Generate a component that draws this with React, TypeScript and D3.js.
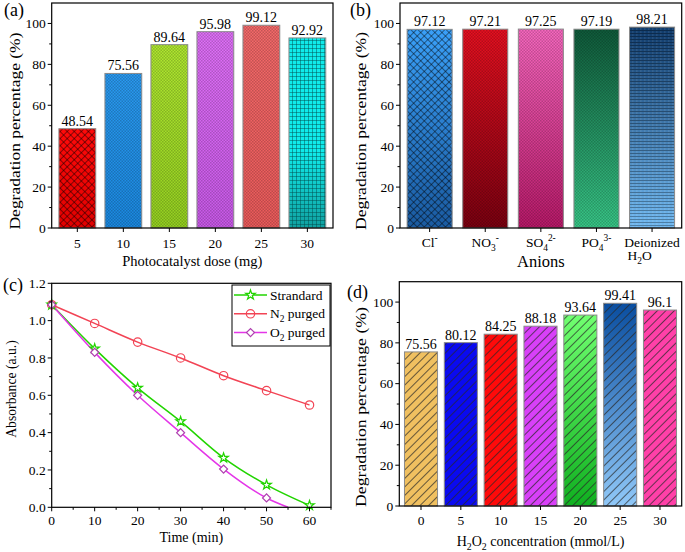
import React from 'react';
import * as d3 from 'd3';

// ---------- data ----------
const aDose = ['5', '10', '15', '20', '25', '30'];
const aValues = [48.54, 75.56, 89.64, 95.98, 99.12, 92.92];

const bAnions = ['Cl', 'NO3', 'SO4', 'PO4', 'Deionized'];
const bValues = [97.12, 97.21, 97.25, 97.19, 98.21];

const cTime = [0, 10, 20, 30, 40, 50, 60];
const cStandard = [1.085, 0.85, 0.64, 0.46, 0.265, 0.12, 0.01];
const cN2 = [1.085, 0.985, 0.885, 0.8, 0.705, 0.625, 0.548];
const cO2Time = [0, 10, 20, 30, 40, 50, 55];
const cO2 = [1.085, 0.83, 0.6, 0.4, 0.205, 0.05, 0];
const cO2Markers = 6;

const dConc = ['0', '5', '10', '15', '20', '25', '30'];
const dValues = [75.56, 80.12, 84.25, 88.18, 93.64, 99.41, 96.1];

const barYTicks = [0, 20, 40, 60, 80, 100];
const barYMinor = [10, 30, 50, 70, 90];
const cYTicks = [0, 0.2, 0.4, 0.6, 0.8, 1.0, 1.2];
const cYMinor = [0.1, 0.3, 0.5, 0.7, 0.9, 1.1];
const cXTicks = [0, 10, 20, 30, 40, 50, 60];
const cXMinor = [5, 15, 25, 35, 45, 55, 65];

// ---------- styles ----------
const FONT = '"Liberation Serif", "Times New Roman", serif';
const aTop = ['#ff0a0a', '#2a9af0', '#b0e830', '#e070f8', '#f46a6a', '#10eaea'];
const aBot = ['#e00000', '#1a88e0', '#94d020', '#c858e8', '#ea5a5a', '#10a0a0'];
const aPat = ['xhatch', 'dots', 'dots', 'dots', 'dots', 'grid'];
const bTop = ['#3aa0f8', '#e81020', '#f868c0', '#0f5a3a', '#0f3a6a'];
const bBot = ['#1a5aa0', '#7a0010', '#b81868', '#38c888', '#70b8f0'];
const bPat = ['xhatch', 'dots', 'dots', 'dots', 'hlines'];
const dTop = ['#f0c060', '#0a0af0', '#ff0a0a', '#d840f8', '#70ff70', '#0a4ea0', '#ff40a8'];
const dBot = ['#f0c060', '#0a0af0', '#ff0a0a', '#d840f8', '#10b020', '#90c8f8', '#ff40a8'];

const txt = { fontFamily: FONT, fill: '#000' } as React.CSSProperties;

type Part = { t: string; s?: 'sub' | 'sup' };
function Rich({ parts, x, y, size, anchor = 'middle' }: { parts: Part[]; x: number; y: number; size: number; anchor?: string }) {
  let cur = 0;
  return (
    <text x={x} y={y} fontSize={size} textAnchor={anchor} style={txt}>
      {parts.map((p, i) => {
        const target = p.s === 'sub' ? size * 0.3 : p.s === 'sup' ? -size * 0.4 : 0;
        const dy = target - cur;
        cur = target;
        return (
          <tspan key={i} dy={dy} fontSize={p.s ? size * 0.7 : size}>
            {p.t}
          </tspan>
        );
      })}
    </text>
  );
}

const bLabelParts: Part[][] = [
  [{ t: 'Cl' }, { t: '-', s: 'sup' }],
  [{ t: 'NO' }, { t: '3', s: 'sub' }, { t: '-', s: 'sup' }],
  [{ t: 'SO' }, { t: '4', s: 'sub' }, { t: '2-', s: 'sup' }],
  [{ t: 'PO' }, { t: '4', s: 'sub' }, { t: '3-', s: 'sup' }],
  [{ t: 'Deionized' }],
];

function YAxis({ x, y, ticks, minor, fmt }: { x: number; y: d3.ScaleLinear<number, number>; ticks: number[]; minor: number[]; fmt: (v: number) => string }) {
  return (
    <g>
      {ticks.map((t) => (
        <g key={'t' + t}>
          <line x1={x - 4} x2={x} y1={y(t)} y2={y(t)} stroke="#000" />
          <text x={x - 6} y={y(t)} dy="0.35em" textAnchor="end" fontSize={13.5} style={txt}>
            {fmt(t)}
          </text>
        </g>
      ))}
      {minor.map((t) => (
        <line key={'m' + t} x1={x - 2.5} x2={x} y1={y(t)} y2={y(t)} stroke="#000" />
      ))}
    </g>
  );
}

function Patterns() {
  return (
    <defs>
      <pattern id="xhatch" width={5} height={5} patternUnits="userSpaceOnUse" patternTransform="rotate(45)">
        <path d="M0.5 0V5M0 0.5H5" stroke="rgba(0,0,0,0.45)" strokeWidth={1} />
      </pattern>
      <pattern id="dots" width={3} height={3} patternUnits="userSpaceOnUse">
        <rect width={1.5} height={1.5} fill="rgba(0,0,0,0.2)" />
        <rect x={1.5} y={1.5} width={1.5} height={1.5} fill="rgba(0,0,0,0.2)" />
      </pattern>
      <pattern id="grid" width={4} height={4} patternUnits="userSpaceOnUse">
        <path d="M0 0.5H4M0.5 0V4" stroke="rgba(0,70,70,0.45)" strokeWidth={1} />
      </pattern>
      <pattern id="hlines" width={4} height={3} patternUnits="userSpaceOnUse">
        <rect width={4} height={1} fill="rgba(0,0,0,0.3)" />
        <rect x={0} y={1.5} width={1.5} height={1} fill="rgba(255,255,255,0.15)" />
      </pattern>
      <pattern id="diag" width={6} height={6} patternUnits="userSpaceOnUse" patternTransform="rotate(45)">
        <line x1={0.5} y1={0} x2={0.5} y2={6} stroke="rgba(40,40,40,0.7)" strokeWidth={1} />
      </pattern>
      {aTop.map((c, i) => (
        <linearGradient key={'ga' + i} id={'ga' + i} x1="0" y1="0" x2="0" y2="1">
          <stop offset="0" stopColor={c} />
          <stop offset={i === 5 ? '0.6' : '0'} stopColor={c} />
          <stop offset="1" stopColor={aBot[i]} />
        </linearGradient>
      ))}
      {bTop.map((c, i) => (
        <linearGradient key={'gb' + i} id={'gb' + i} x1="0" y1="0" x2="0" y2="1">
          <stop offset="0" stopColor={c} />
          <stop offset="1" stopColor={bBot[i]} />
        </linearGradient>
      ))}
      {dTop.map((c, i) => (
        <linearGradient key={'gd' + i} id={'gd' + i} x1="0" y1="0" x2="0" y2="1">
          <stop offset="0" stopColor={c} />
          <stop offset="1" stopColor={dBot[i]} />
        </linearGradient>
      ))}
    </defs>
  );
}

function Bars({ cats, values, x, y, grad, pats }: { cats: string[]; values: number[]; x: d3.ScaleBand<string>; y: d3.ScaleLinear<number, number>; grad: string; pats: string[] }) {
  return (
    <g>
      {cats.map((c, i) => {
        const bx = x(c)!;
        const bw = x.bandwidth();
        const by = y(values[i]);
        const bh = y(0) - by;
        return (
          <g key={c}>
            <rect x={bx} y={by} width={bw} height={bh} fill={`url(#${grad}${i})`} />
            <rect x={bx} y={by} width={bw} height={bh} fill={`url(#${pats[i]})`} stroke="#8a8a8a" strokeWidth={1} />
            <text x={bx + bw / 2} y={by - 3} textAnchor="middle" fontSize={14} style={txt}>
              {values[i]}
            </text>
          </g>
        );
      })}
    </g>
  );
}

export default function App() {
  // Panel a
  const A = { l: 51.7, r: 333, t: 3, b: 228 };
  const ax = d3.scaleBand<string>().domain(aDose).range([A.l, A.r]).paddingInner(0.2).paddingOuter(0.157);
  const ay = d3.scaleLinear().domain([0, 110]).range([A.b, A.t]);
  // Panel b
  const B = { l: 400, r: 681.7, t: 3, b: 228 };
  const bx = d3.scaleBand<string>().domain(bAnions).range([B.l, B.r]).paddingInner(0.19).paddingOuter(0.128);
  const by = d3.scaleLinear().domain([0, 110]).range([B.b, B.t]);
  // Panel c
  const C = { l: 51.7, r: 331, t: 283.3, b: 507.3 };
  const cx = d3.scaleLinear().domain([0, 65]).range([C.l, C.r]);
  const cy = d3.scaleLinear().domain([0, 1.2]).range([C.b, C.t]);
  // Panel d
  const D = { l: 399.3, r: 681.7, t: 281.7, b: 506 };
  const dx = d3.scaleBand<string>().domain(dConc).range([D.l, D.r]).paddingInner(0.17).paddingOuter(0.13);
  const dy = d3.scaleLinear().domain([0, 110]).range([D.b, D.t]);

  const line = d3
    .line<[number, number]>()
    .x((p) => cx(p[0]))
    .y((p) => cy(p[1]))
    .curve(d3.curveMonotoneX);

  const stdPts = cTime.map((t, i) => [t, cStandard[i]] as [number, number]);
  const n2Pts = cTime.map((t, i) => [t, cN2[i]] as [number, number]);
  const o2Pts = cO2Time.map((t, i) => [t, cO2[i]] as [number, number]);

  const green = '#22d400';
  const red = '#f24455';
  const magenta = '#e436e8';
  const star = d3.symbol().type(d3.symbolStar).size(28)()!;
  const diamond = d3.symbol().type(d3.symbolSquare).size(32)()!;

  const fmtInt = (v: number) => String(v);
  const fmt1 = (v: number) => v.toFixed(1);

  return (
    <svg width={685} height={552} style={{ position: 'absolute', left: 0, top: 0, background: '#fff', fontFamily: FONT }}>
      <Patterns />
      <rect width={685} height={552} fill="#fff" />

      {/* ---------- Panel a ---------- */}
      <Bars cats={aDose} values={aValues} x={ax} y={ay} grad="ga" pats={aPat} />
      <rect x={A.l} y={A.t} width={A.r - A.l} height={A.b - A.t} fill="none" stroke="#000" strokeWidth={1.2} />
      <YAxis x={A.l} y={ay} ticks={barYTicks} minor={barYMinor} fmt={fmtInt} />
      {aDose.map((c) => (
        <g key={c}>
          <line x1={ax(c)! + ax.bandwidth() / 2} x2={ax(c)! + ax.bandwidth() / 2} y1={A.b} y2={A.b + 4} stroke="#000" />
          <text x={ax(c)! + ax.bandwidth() / 2} y={248} textAnchor="middle" fontSize={13.5} style={txt}>
            {c}
          </text>
        </g>
      ))}
      <text x={(A.l + A.r) / 2} y={266} textAnchor="middle" fontSize={14.5} style={txt}>
        Photocatalyst dose (mg)
      </text>
      <text transform="translate(20,131) rotate(-90)" textAnchor="middle" fontSize={15.5} textLength={197} lengthAdjust="spacingAndGlyphs" style={txt}>
        Degradation percentage (%)
      </text>
      <text x={4} y={16} fontSize={18} style={txt}>
        (a)
      </text>

      {/* ---------- Panel b ---------- */}
      <Bars cats={bAnions} values={bValues} x={bx} y={by} grad="gb" pats={bPat} />
      <rect x={B.l} y={B.t} width={B.r - B.l} height={B.b - B.t} fill="none" stroke="#000" strokeWidth={1.2} />
      <YAxis x={B.l} y={by} ticks={barYTicks} minor={barYMinor} fmt={fmtInt} />
      {bAnions.map((c, i) => (
        <g key={c}>
          <line x1={bx(c)! + bx.bandwidth() / 2} x2={bx(c)! + bx.bandwidth() / 2} y1={B.b} y2={B.b + 4} stroke="#000" />
          <Rich parts={bLabelParts[i]} x={bx(c)! + bx.bandwidth() / 2} y={246.5} size={13.5} />
        </g>
      ))}
      <Rich parts={[{ t: 'H' }, { t: '2', s: 'sub' }, { t: 'O' }]} x={bx(bAnions[4])! - 2} y={260} size={13.5} anchor="start" />
      <text x={(B.l + B.r) / 2} y={266.5} textAnchor="middle" fontSize={16.5} style={txt}>
        Anions
      </text>
      <text transform="translate(366,131) rotate(-90)" textAnchor="middle" fontSize={15.5} textLength={198} lengthAdjust="spacingAndGlyphs" style={txt}>
        Degradation percentage (%)
      </text>
      <text x={350} y={16} fontSize={18} style={txt}>
        (b)
      </text>

      {/* ---------- Panel c ---------- */}
      <defs>
        <clipPath id="clipC">
          <rect x={C.l} y={C.t} width={C.r - C.l} height={C.b - C.t} />
        </clipPath>
      </defs>
      <g clipPath="url(#clipC)">
        <path d={line(n2Pts)!} fill="none" stroke={red} strokeWidth={1.5} />
        <path d={line(stdPts)!} fill="none" stroke={green} strokeWidth={1.5} />
        <path d={line(o2Pts)!} fill="none" stroke={magenta} strokeWidth={1.5} />
      </g>
      {n2Pts.map((p, i) => (
        <circle key={'n' + i} cx={cx(p[0])} cy={cy(p[1])} r={4.2} fill="none" stroke={red} strokeWidth={1.2} />
      ))}
      {stdPts.map((p, i) => (
        <path key={'s' + i} d={star} transform={`translate(${cx(p[0])},${cy(p[1])})`} fill="#fff" stroke={green} strokeWidth={1.2} />
      ))}
      {o2Pts.slice(0, cO2Markers).map((p, i) => (
        <path key={'o' + i} d={diamond} transform={`translate(${cx(p[0])},${cy(p[1])}) rotate(45)`} fill="#fff" stroke="#b040b0" strokeWidth={1.2} />
      ))}
      <rect x={C.l} y={C.t} width={C.r - C.l} height={C.b - C.t} fill="none" stroke="#000" strokeWidth={1.2} />
      <YAxis x={C.l} y={cy} ticks={cYTicks} minor={cYMinor} fmt={fmt1} />
      {cXTicks.map((t) => (
        <g key={t}>
          <line x1={cx(t)} x2={cx(t)} y1={C.b} y2={C.b + 4} stroke="#000" />
          <text x={cx(t)} y={525} textAnchor="middle" fontSize={13.5} style={txt}>
            {t}
          </text>
        </g>
      ))}
      {cXMinor.map((t) => (
        <line key={'cm' + t} x1={cx(t)} x2={cx(t)} y1={C.b} y2={C.b + 2.5} stroke="#000" />
      ))}
      <text x={(C.l + C.r) / 2} y={541.5} textAnchor="middle" fontSize={14} style={txt}>
        Time (min)
      </text>
      <text transform="translate(16,389) rotate(-90)" textAnchor="middle" fontSize={13.7} style={txt}>
        Absorbance (a.u.)
      </text>
      <text x={3} y={291} fontSize={18} style={txt}>
        (c)
      </text>
      {/* legend */}
      <rect x={232} y={285} width={98} height={61} fill="#fff" stroke="#000" strokeWidth={1} />
      {[
        { c: green, name: [{ t: 'Strandard' }] as Part[], m: 'star' },
        { c: red, name: [{ t: 'N' }, { t: '2', s: 'sub' }, { t: ' purged' }] as Part[], m: 'circle' },
        { c: magenta, name: [{ t: 'O' }, { t: '2', s: 'sub' }, { t: ' purged' }] as Part[], m: 'diamond' },
      ].map((e, i) => {
        const yy = 295 + i * 18.8;
        return (
          <g key={i}>
            <line x1={234} x2={267} y1={yy} y2={yy} stroke={e.c} strokeWidth={1.5} />
            {e.m === 'star' && <path d={star} transform={`translate(250.5,${yy})`} fill="#fff" stroke={e.c} strokeWidth={1.2} />}
            {e.m === 'circle' && <circle cx={250.5} cy={yy} r={4.2} fill="none" stroke={e.c} strokeWidth={1.2} />}
            {e.m === 'diamond' && <path d={diamond} transform={`translate(250.5,${yy}) rotate(45)`} fill="#fff" stroke="#b040b0" strokeWidth={1.2} />}
            <Rich parts={e.name} x={270} y={yy + 4.5} size={13.5} anchor="start" />
          </g>
        );
      })}

      {/* ---------- Panel d ---------- */}
      <Bars cats={dConc} values={dValues} x={dx} y={dy} grad="gd" pats={dConc.map(() => 'diag')} />
      <rect x={D.l} y={D.t} width={D.r - D.l} height={D.b - D.t} fill="none" stroke="#000" strokeWidth={1.2} />
      <YAxis x={D.l} y={dy} ticks={barYTicks} minor={barYMinor} fmt={fmtInt} />
      {dConc.map((c) => (
        <g key={c}>
          <line x1={dx(c)! + dx.bandwidth() / 2} x2={dx(c)! + dx.bandwidth() / 2} y1={D.b} y2={D.b + 4} stroke="#000" />
          <text x={dx(c)! + dx.bandwidth() / 2} y={525} textAnchor="middle" fontSize={13.5} style={txt}>
            {c}
          </text>
        </g>
      ))}
      <Rich
        parts={[{ t: 'H' }, { t: '2', s: 'sub' }, { t: 'O' }, { t: '2', s: 'sub' }, { t: ' concentration (mmol/L)' }]}
        x={(D.l + D.r) / 2}
        y={546}
        size={14}
      />
      <text transform="translate(366,407) rotate(-90)" textAnchor="middle" fontSize={15.5} textLength={200} lengthAdjust="spacingAndGlyphs" style={txt}>
        Degradation percentage (%)
      </text>
      <text x={347} y={298} fontSize={18} style={txt}>
        (d)
      </text>
    </svg>
  );
}
